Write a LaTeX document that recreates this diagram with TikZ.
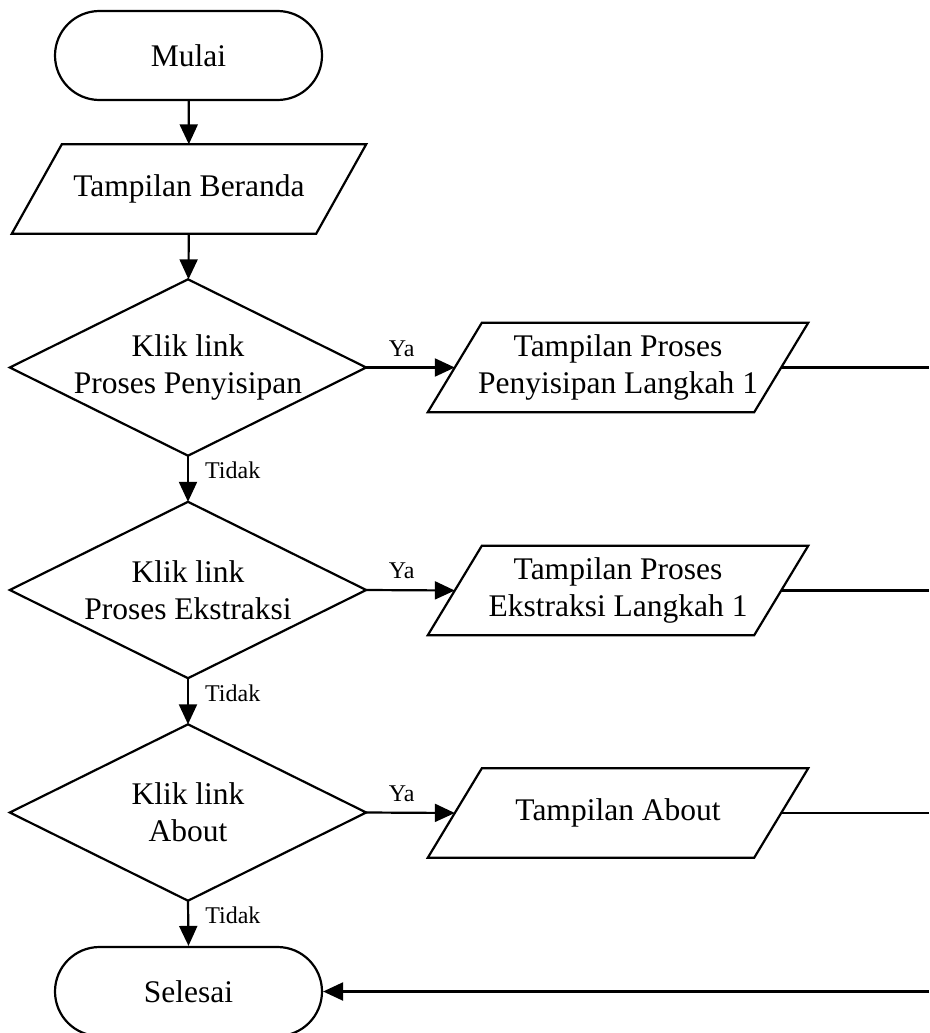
\documentclass[tikz,border=0pt]{standalone}
\usepackage{fontspec}
\setmainfont{Liberation Serif}
\usetikzlibrary{arrows.meta}

% outline of a decision: diamond through the four side anchors of a frame node
\newcommand\decisionoutline[1]{%
  \draw[line] (#1.north) -- (#1.east) -- (#1.south) -- (#1.west) -- cycle;}
% outline of an input/output box: parallelogram slanted by #2 around a frame node
\newcommand\dataoutline[2]{%
  \draw[line] ([xshift=-#2]#1.south west) -- ([xshift=#2]#1.north west)
    -- ([xshift=#2]#1.north east) -- ([xshift=-#2]#1.south east) -- cycle;}

\begin{document}
\begin{tikzpicture}[x=1pt,y=-1pt,
  line/.style={line width=2.2pt},
  flow/.style={line, -{Triangle[length=20pt,width=18pt]}},
  txt/.style={font=\fontsize{31.5}{37}\selectfont, align=center, inner sep=0pt},
  lbl/.style={font=\fontsize{24}{28}\selectfont, inner sep=0pt},
  term/.style={txt, draw, line, rounded corners=44.5pt,
    minimum width=267pt, minimum height=89pt},
  dataframe/.style={txt, minimum width=#1, minimum height=89pt},
  decframe/.style={txt, minimum width=356pt, minimum height=176pt},
]
\useasboundingbox (0,0) rectangle (929,1033);

% nodes
\node[term] (start) at (188.5,55.5) {Mulai};
\node[dataframe=304pt] (home) at (189,189) {Tampilan Beranda};
\node[decframe] (d1) at (188,367.5) {Klik link\\Proses Penyisipan};
\node[decframe] (d2) at (188,590) {Klik link\\Proses Ekstraksi};
\node[decframe] (d3) at (188,812.5) {Klik link\\About};
\node[dataframe=326pt] (p1) at (618,367.5) {Tampilan Proses\\Penyisipan Langkah 1};
\node[dataframe=326pt] (p2) at (618,590.5) {Tampilan Proses\\Ekstraksi Langkah 1};
\node[dataframe=326pt] (p3) at (618,813) {Tampilan About};
\node[term] (stop) at (188.5,991.5) {Selesai};
\coordinate (edge) at (929,0);

% outlines
\dataoutline{home}{25pt}
\decisionoutline{d1}
\decisionoutline{d2}
\decisionoutline{d3}
\dataoutline{p1}{27pt}
\dataoutline{p2}{27pt}
\dataoutline{p3}{27pt}

% connectors
\draw[flow] (start) -- (home);
\draw[flow] (home) -- (d1);
\draw[flow] (d1.east) -- node[lbl, pos=0.4, above=10pt] {Ya} (p1.west);
\draw[flow] (d2.east) -- node[lbl, pos=0.4, above=10pt] {Ya} (p2.west);
\draw[flow] (d3.east) -- node[lbl, pos=0.4, above=10pt] {Ya} (p3.west);
\draw[flow] (d1.south) -- node[lbl, pos=0.32, right=16pt] {Tidak} (d2.north);
\draw[flow] (d2.south) -- node[lbl, pos=0.32, right=16pt] {Tidak} (d3.north);
\draw[flow] (d3.south) -- node[lbl, pos=0.32, right=16pt] {Tidak} (stop.north);
\draw[line] (p1.east) -- (p1.east -| edge);
\draw[line] (p2.east) -- (p2.east -| edge);
\draw[line] (p3.east) -- (p3.east -| edge);
\draw[flow] (stop.east -| edge) -- (stop.east);
\end{tikzpicture}
\end{document}
